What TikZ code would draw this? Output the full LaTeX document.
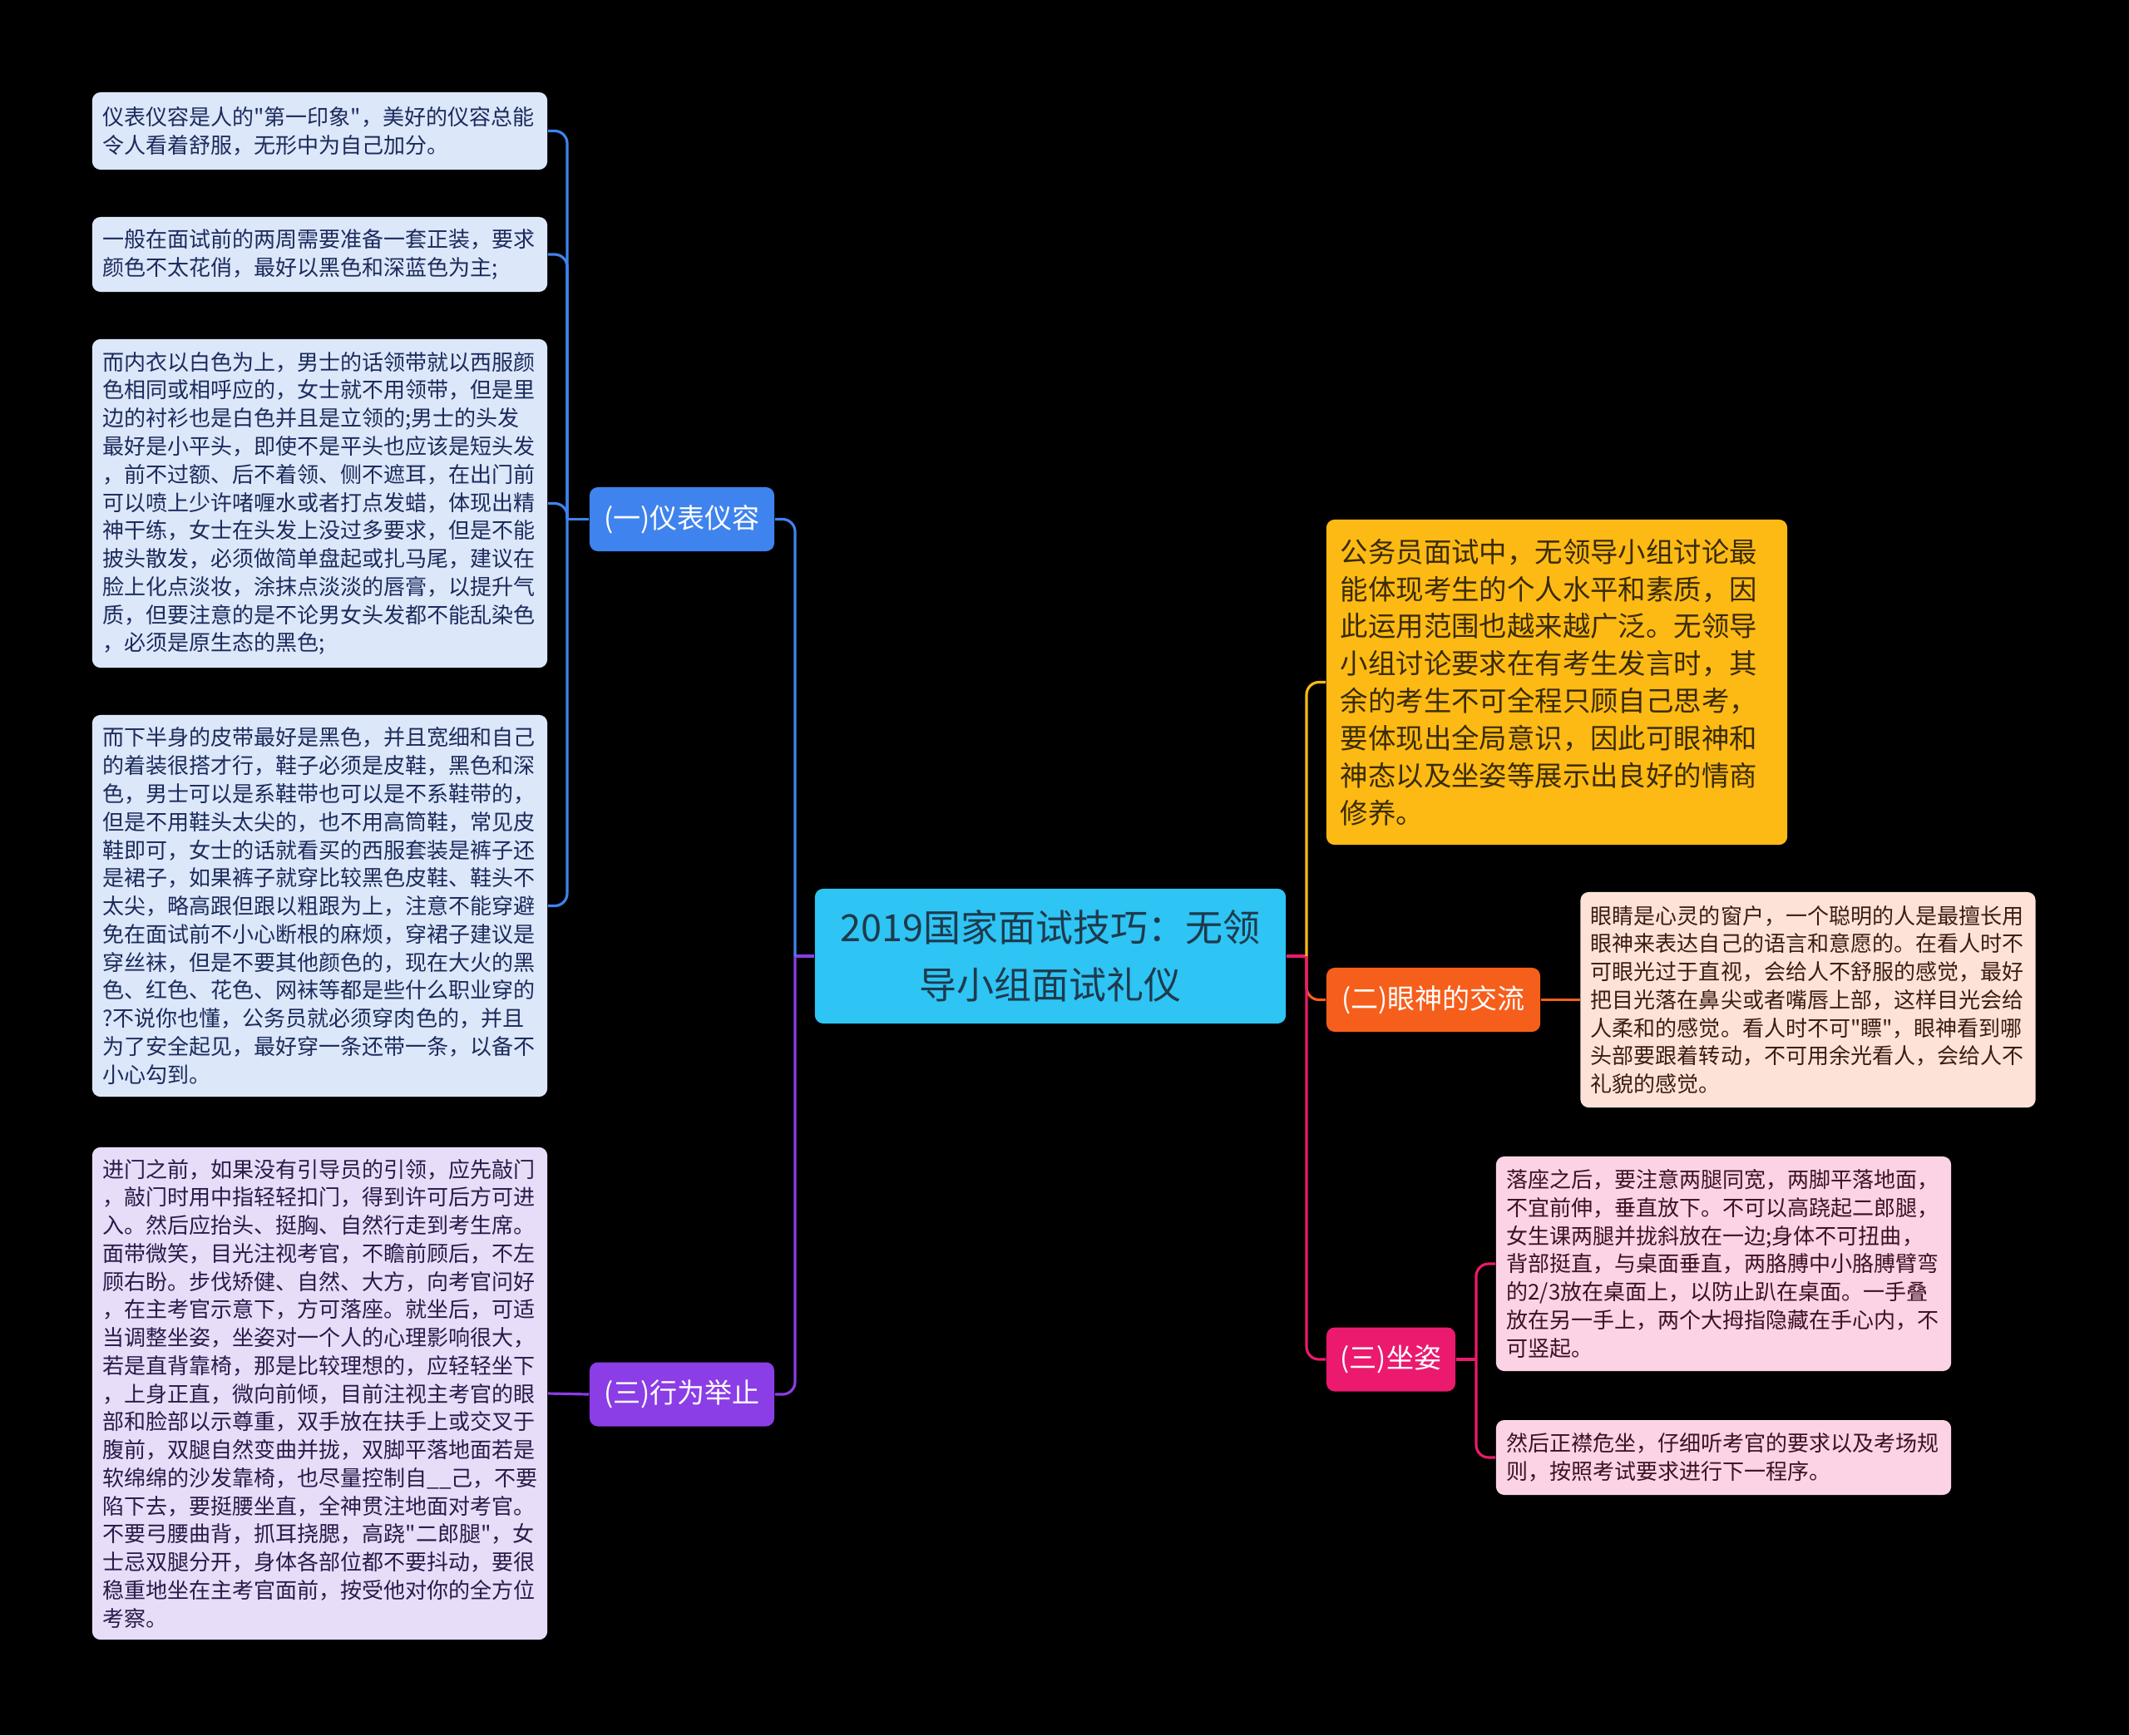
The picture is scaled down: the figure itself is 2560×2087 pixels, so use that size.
\documentclass[tikz,border=0pt]{standalone}
\usepackage{fontspec}
\newfontfamily\cjk{Noto Sans CJK SC}
\definecolor{rootc}{RGB}{46,196,244}
\definecolor{roott}{RGB}{30,58,76}
\definecolor{bluec}{RGB}{63,131,238}
\definecolor{bluel}{RGB}{220,231,250}
\definecolor{bluet}{RGB}{28,43,92}
\definecolor{purc}{RGB}{139,61,230}
\definecolor{purl}{RGB}{231,221,248}
\definecolor{purt}{RGB}{43,26,74}
\definecolor{yelc}{RGB}{253,186,20}
\definecolor{yelt}{RGB}{58,43,5}
\definecolor{orac}{RGB}{246,94,27}
\definecolor{oral}{RGB}{253,227,215}
\definecolor{orat}{RGB}{61,28,18}
\definecolor{pinkc}{RGB}{235,26,110}
\definecolor{pinkl}{RGB}{252,211,229}
\definecolor{pinkt}{RGB}{62,16,36}

\begin{document}
\begin{tikzpicture}[x=0.01cm,y=-0.01cm,
    box/.style={rounded corners=0.1cm,inner sep=0pt},
    note/.style={box,align=left,text width=5.22cm,minimum width=5.47cm,font=\cjk\fontsize{7.4}{9.6}\selectfont},
    topic/.style={box,align=center,minimum height=0.77cm,text=white,font=\cjk\fontsize{9.4}{11}\selectfont},
    link/.style={line width=0.9pt,rounded corners=0.15cm}]
  \path[use as bounding box,fill=black] (0,0) rectangle (2560,2087);

  \node[box,fill=rootc,text=roott,align=center,minimum width=5.66cm,minimum height=1.62cm,font=\cjk\fontsize{12.8}{19.6}\selectfont] (root) at (1263,1150) {2019国家面试技巧：无领\\导小组面试礼仪};

  \node[topic,fill=bluec,minimum width=2.22cm] (yi) at (820,624.5) {(一)仪表仪容};
  \node[topic,fill=purc,minimum width=2.22cm] (xing) at (820,1677) {(三)行为举止};
  \node[topic,fill=orac,minimum width=2.57cm] (er) at (1723.5,1202.5) {(二)眼神的交流};
  \node[topic,fill=pinkc,minimum width=1.55cm] (zuo) at (1672.5,1635) {(三)坐姿};

  \node[box,fill=yelc,text=yelt,align=left,text width=5.2cm,minimum width=5.54cm,minimum height=3.91cm,font=\cjk\fontsize{9.5}{12.75}\selectfont] (gong) at (1872,820.5) {公务员面试中，无领导小组讨论最\\能体现考生的个人水平和素质，因\\此运用范围也越来越广泛。无领导\\小组讨论要求在有考生发言时，其\\余的考生不可全程只顾自己思考，\\要体现出全局意识，因此可眼神和\\神态以及坐姿等展示出良好的情商\\修养。};

  \node[note,fill=bluel,text=bluet,minimum height=0.93cm] (yi1) at (384.5,157.5) {仪表仪容是人的"第一印象"，美好的仪容总能\\令人看着舒服，无形中为自己加分。};
  \node[note,fill=bluel,text=bluet,minimum height=0.90cm] (yi2) at (384.5,306) {一般在面试前的两周需要准备一套正装，要求\\颜色不太花俏，最好以黑色和深蓝色为主;};
  \node[note,fill=bluel,text=bluet,minimum height=3.95cm] (yi3) at (384.5,605.5) {而内衣以白色为上，男士的话领带就以西服颜\\色相同或相呼应的，女士就不用领带，但是里\\边的衬衫也是白色并且是立领的;男士的头发\\最好是小平头，即使不是平头也应该是短头发\\，前不过额、后不着领、侧不遮耳，在出门前\\可以喷上少许啫喱水或者打点发蜡，体现出精\\神干练，女士在头发上没过多要求，但是不能\\披头散发，必须做简单盘起或扎马尾，建议在\\脸上化点淡妆，涂抹点淡淡的唇膏，以提升气\\质，但要注意的是不论男女头发都不能乱染色\\，必须是原生态的黑色;};
  \node[note,fill=bluel,text=bluet,minimum height=4.59cm] (yi4) at (384.5,1089.5) {而下半身的皮带最好是黑色，并且宽细和自己\\的着装很搭才行，鞋子必须是皮鞋，黑色和深\\色，男士可以是系鞋带也可以是不系鞋带的，\\但是不用鞋头太尖的，也不用高筒鞋，常见皮\\鞋即可，女士的话就看买的西服套装是裤子还\\是裙子，如果裤子就穿比较黑色皮鞋、鞋头不\\太尖，略高跟但跟以粗跟为上，注意不能穿避\\免在面试前不小心断根的麻烦，穿裙子建议是\\穿丝袜，但是不要其他颜色的，现在大火的黑\\色、红色、花色、网袜等都是些什么职业穿的\\?不说你也懂，公务员就必须穿肉色的，并且\\为了安全起见，最好穿一条还带一条，以备不\\小心勾到。};
  \node[note,fill=purl,text=purt,minimum height=5.92cm] (xing1) at (384.5,1676) {进门之前，如果没有引导员的引领，应先敲门\\，敲门时用中指轻轻扣门，得到许可后方可进\\入。然后应抬头、挺胸、自然行走到考生席。\\面带微笑，目光注视考官，不瞻前顾后，不左\\顾右盼。步伐矫健、自然、大方，向考官问好\\，在主考官示意下，方可落座。就坐后，可适\\当调整坐姿，坐姿对一个人的心理影响很大，\\若是直背靠椅，那是比较理想的，应轻轻坐下\\，上身正直，微向前倾，目前注视主考官的眼\\部和脸部以示尊重，双手放在扶手上或交叉于\\腹前，双腿自然变曲并拢，双脚平落地面若是\\软绵绵的沙发靠椅，也尽量控制自\_\_己，不要\\陷下去，要挺腰坐直，全神贯注地面对考官。\\不要弓腰曲背，抓耳挠腮，高跷"二郎腿"，女\\士忌双腿分开，身体各部位都不要抖动，要很\\稳重地坐在主考官面前，按受他对你的全方位\\考察。};
  \node[note,fill=oral,text=orat,minimum height=2.59cm] (er1) at (2174,1202.5) {眼睛是心灵的窗户，一个聪明的人是最擅长用\\眼神来表达自己的语言和意愿的。在看人时不\\可眼光过于直视，会给人不舒服的感觉，最好\\把目光落在鼻尖或者嘴唇上部，这样目光会给\\人柔和的感觉。看人时不可"瞟"，眼神看到哪\\头部要跟着转动，不可用余光看人，会给人不\\礼貌的感觉。};
  \node[note,fill=pinkl,text=pinkt,minimum height=2.58cm] (zuo1) at (2072.5,1520) {落座之后，要注意两腿同宽，两脚平落地面，\\不宜前伸，垂直放下。不可以高跷起二郎腿，\\女生课两腿并拢斜放在一边;身体不可扭曲，\\背部挺直，与桌面垂直，两胳膊中小胳膊臂弯\\的2/3放在桌面上，以防止趴在桌面。一手叠\\放在另一手上，两个大拇指隐藏在手心内，不\\可竖起。};
  \node[note,fill=pinkl,text=pinkt,minimum height=0.90cm] (zuo2) at (2072.5,1753) {然后正襟危坐，仔细听考官的要求以及考场规\\则，按照考试要求进行下一程序。};

  \coordinate (jl) at (956,1150);
  \coordinate (jr) at (1571,1150);
  \coordinate (jyi) at (682,624.5);
  \coordinate (jzuo) at (1775,1635);

  \draw[link,purc] (root.west) -- (jl);
  \draw[link,bluec] (jl) |- (yi.east);
  \draw[link,purc] (jl) |- (xing.east);
  \draw[link,bluec] (yi.west) -- (jyi);
  \foreach \n in {yi1,yi2,yi3,yi4}
    \draw[link,bluec] (jyi) |- (\n.east);
  \draw[link,purc] (xing.west) -- (xing1.east);

  \draw[link,pinkc] (root.east) -- (jr);
  \draw[link,yelc] (jr) |- (gong.west);
  \draw[link,orac] (jr) |- (er.west);
  \draw[link,pinkc] (jr) |- (zuo.west);
  \draw[link,orac] (er.east) -- (er1.west);
  \draw[link,pinkc] (zuo.east) -- (jzuo);
  \foreach \n in {zuo1,zuo2}
    \draw[link,pinkc] (jzuo) |- (\n.west);
\end{tikzpicture}
\end{document}
